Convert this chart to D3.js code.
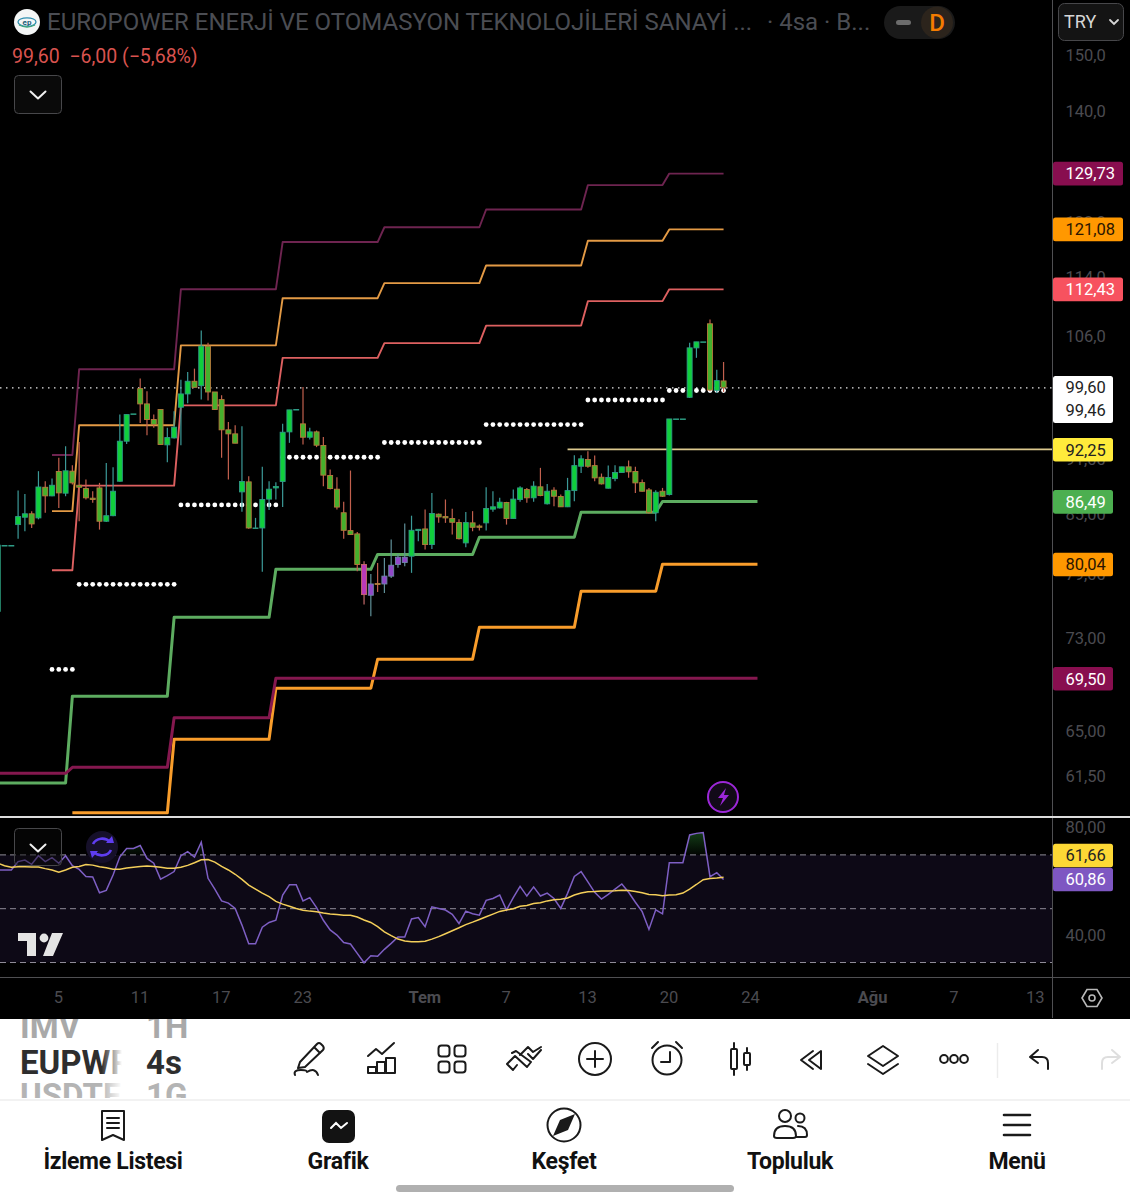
<!DOCTYPE html>
<html>
<head>
<meta charset="utf-8">
<script src="https://cdn.jsdelivr.net/npm/d3@7/dist/d3.min.js"></script>
<style>
html,body{margin:0;padding:0;background:#000;}
svg{display:block;font-family:Roboto,sans-serif;}
</style>
</head>
<body>
<div id="chart"></div>
<script>
// ---- candles, index 0 is bar -9 ----
const firstBar = -9;
const opens = [
75.5,81.9,81.9,84.05,84.82,85.18,84.75,88.02,87.09,89.75,
87.38,89.79,88.24,87.88,86.84,87.95,84.4,84.98,88.68,93.18,
96.38,99.44,97.58,95.71,96.9,92.76,93.56,97.18,98.79,100.35,
99.8,104.8,99.03,98.1,94.5,94.03,87.52,88.61,83.7,83.7,
86.74,87.95,88.65,94.26,96.9,95.2,93.64,94.26,92.69,89.31,
87.81,85.29,83.43,83.09,80,77.02,78.15,78.1,78.86,80,
80.2,80.83,83.43,83.6,82,85.14,84.89,84.68,84.26,82.17,
84.23,83.9,84.23,85.67,85.8,86.38,84.68,86.7,87.77,86.88,
88.07,86.24,87.7,87.02,85.92,87.66,90.34,91.09,90.41,89.12,
87.92,88.97,89.64,90.27,89.75,88.53,87.73,85.29,87.59,87.23,
95.78,95.78,98.38,104.58,105.36,107.74,99.23,100.39];
const highs = [
81.94,81.9,81.9,87.66,87.3,85.46,89.79,88.68,88.97,91.28,
92.6,90.45,93.1,88.86,87.59,88.5,90.71,90.23,96.3,96.3,
96.38,100.68,99.11,96.3,96.9,94.73,96.7,100.55,101.5,101.93,
106.85,105.23,99.03,98.62,95.43,95.04,94.92,89.23,84.75,90.27,
88.68,88.57,95.2,96.86,96.9,99.65,94.73,94.42,93.67,89.97,
89.12,86.45,89.86,83.29,80.33,79.08,80.16,80.66,82.51,81.06,
84.16,84.98,83.6,85.64,87.41,85.21,86.7,85.71,84.6,85.36,
85.46,84.05,88.02,87.59,86.88,86.45,87.77,88.14,87.95,88.68,
90.16,88.39,88.02,87.23,89.05,91.58,91.58,92.04,91.54,89.53,
90.41,90.45,90.27,90.98,90.27,88.86,87.95,87.7,87.95,95.78,
95.78,95.78,105.23,105.36,105.36,108.3,101.8,102.77];
const lows = [
75.5,81.9,81.9,82.6,83.36,83.7,84.6,85.3,87.05,85.8,
87.05,88.32,84.4,86.7,86.34,83.53,84.33,84.92,88.61,92.87,
96.38,95.31,93.87,94.73,92.8,90.79,93.48,92.72,97.66,99.6,
98.1,97.98,96.9,91.28,88.86,92.95,85.39,83.63,83.7,79.28,
85.57,86.7,85.9,92.99,96.9,92.8,93.37,92.5,88.14,87.77,
85.64,82.6,83.02,79.34,76.14,75.05,77.34,77.24,78.68,79.67,
79.84,79.18,82.34,81.5,81.56,84.23,84.23,83.02,82.51,81.73,
83.36,83.43,83.43,85.39,85.75,84.05,84.65,86.45,86.34,86.45,
87.05,86.16,85.99,85.89,85.89,86.52,89.6,90.16,88.68,88.32,
87.88,88.68,89.64,89.05,87.41,87.55,85.21,84.4,86.98,87.13,
95.78,95.78,98.3,103.3,105.36,99.11,98.9,99.03];
const closes = [
81.94,81.9,81.9,84.89,85.18,84.12,88.05,87.09,88.24,87.41,
89.83,88.5,88.02,86.88,86.7,84.4,84.98,87.59,93.18,96.3,
96.38,97.58,95.71,95.12,92.8,93.6,94.81,98.79,100.35,99.6,
104.8,99.03,96.9,94.5,94.03,92.95,88.65,83.7,83.7,86.7,
87.81,88.1,94.22,96.86,96.9,93.64,94.26,92.72,89.35,87.88,
85.89,83.46,83.02,80,77.08,78.1,78.05,78.86,79.93,80.73,
80.73,83.46,83.56,82,85.21,84.85,84.75,84.29,82.6,84.26,
83.77,83.77,85.74,85.92,86.41,84.68,86.74,87.95,86.88,88.14,
87.13,87.59,87.05,85.92,87.66,90.41,91.17,90.34,89.05,88.39,
89.09,89.64,90.27,89.72,88.5,87.59,85.29,87.48,87.05,95.78,
95.78,95.78,104.58,105.36,105.36,99.27,100.43,99.6];
const purpleBars = [46,48,49,50,51];
const magentaBars = [45];

// ---- pivot levels per period ----
const upperStarts = [-1,3,18,33,48,63,78,90];
const r3 = [91.6,101.85,112.44,119.2,121.4,124.1,127.9,129.73];
const r2 = [85.46,95.04,104.9,111.2,113.3,115.8,119.4,121.08];
const r1 = [79.44,88.2,97.4,103.3,105.2,107.5,110.8,112.43];
const pivots = [70.27,78.07,86.12,91.35,93.03,95.12,98.05,99.21];
const lowerStarts = [-10,2,17,32,47,62,77,89];
const s1 = [61.06,67.98,74.95,79.53,81.0,82.75,85.35,86.49];
const s2 = [null,58.85,64.45,68.65,71.16,74.03,77.4,80.04];
const s3 = [61.8,62.26,66.2,69.5,69.5,69.5,69.5,69.5];
const upperEnd = 98, lowerEnd = 103;
const hLevel = 92.25, hLevelStart = 75;

// ---- RSI, same bar index as candles ----
const rsi = [
64.4,64.4,64.4,67.5,68.1,66.5,69.7,67.5,69.0,66.9,
69.7,66.0,64.6,62.0,61.8,55.9,56.8,62.5,69.3,72.4,
72.4,73.5,68.7,66.9,61.0,62.3,63.8,69.7,71.2,69.2,
74.7,61.3,57.3,52.9,52.1,50.1,43.9,37.0,37.0,43.1,
44.9,45.7,55.1,58.9,58.9,52.9,54.1,50.4,45.7,42.1,
40.2,37.4,36.9,33.4,29.9,32.5,32.3,34.9,37.1,39.5,
39.5,46.2,46.7,43.3,50.7,50.1,49.5,47.9,44.5,49.1,
48.1,47.6,53.1,53.8,55.1,49.5,54.1,58.3,54.7,58.1,
54.7,55.8,53.8,50.1,55.7,62.0,63.8,60.0,56.1,53.6,
55.3,57.3,59.2,56.1,52.4,48.9,42.3,49.6,48.1,67.1,
67.1,67.1,77.4,78.0,78.3,61.9,63.4,60.86];
const rsiMa = [
66.9,66.0,65.4,65.6,65.6,65.5,65.5,64.9,64.4,63.6,
64.4,65.4,65.7,66.4,66.2,65.6,65.2,64.7,64.7,65.1,
65.4,65.7,65.9,65.7,65.4,65.0,65.0,65.4,66.1,67.1,
68.2,68.3,67.3,65.7,64.4,62.8,60.9,58.8,57.3,55.8,
54.5,52.7,51.7,50.9,50.1,49.4,49.1,48.9,48.4,48.0,
47.8,47.6,47.6,46.9,45.8,44.9,43.3,41.4,40.0,38.7,
38.0,37.7,37.7,37.9,38.7,39.6,40.7,41.8,42.9,44.1,
45.0,46.0,47.0,48.0,49.0,49.5,50.0,50.9,51.2,51.9,
52.2,52.9,53.3,53.5,54.0,55.1,55.8,56.3,56.4,56.6,
56.6,56.7,56.9,56.8,56.4,55.9,55.3,55.2,54.8,55.1,
55.2,55.8,57.3,59.0,60.8,61.2,61.4,61.66];
const rsiLevels = [70,50,30];

// ---- axis labels ----
const priceTicks = [150,140,122,114,106,91,85,79,73,65,61.5];
const rsiTicks = [80,40];
const timeTickBars = [0,12,24,36,54,66,78,90,102,120,132,144];
const timeTickLabels = ["5","11","17","23","Tem","7","13","20","24","Ağu","7","13"];
const boldTimeLabels = ["Tem","Ağu"];
const lastPrice = 99.60, bidPrice = 99.46;
const upperTagValues = [129.73,121.08,112.43];
const upperTagColors = ["#880E4F","#FF9800","#F7525F"];
const upperTagText = ["#fff","#2a1500","#fff"];
const lowerTagValues = [92.25,86.49,80.04,69.50];
const lowerTagColors = ["#FFEB3B","#4CAF50","#FF9800","#880E4F"];
const lowerTagText = ["#222","#fff","#2a1500","#fff"];
const tabLabels = ["İzleme Listesi","Grafik","Keşfet","Topluluk","Menü"];

const W = 1130, H = 1200, axisX = 1052;
const svg = d3.select("#chart").append("svg").attr("width",W).attr("height",H).style("background","#000");
const defs = svg.append("defs");
defs.append("clipPath").attr("id","pricePane").append("rect").attr("x",0).attr("y",0).attr("width",axisX).attr("height",816);
defs.append("clipPath").attr("id","rsiPane").append("rect").attr("x",0).attr("y",818).attr("width",axisX).attr("height",159);

const x = d3.scaleLinear().domain([0,144]).range([58.8,1035.6]);
const y = d3.scaleLog().domain([150,61.5]).range([56.2,777.2]);
const yR = d3.scaleLinear().domain([50,70]).range([908.7,854.9]);
const fmt2 = v => d3.format(".2f")(v).replace(".",",");
const barOf = i => i + firstBar;

// ---- price pane ----
const pane = svg.append("g").attr("clip-path","url(#pricePane)");
pane.append("line").attr("x1",0).attr("x2",axisX).attr("y1",y(lastPrice)+.5).attr("y2",y(lastPrice)+.5)
  .attr("stroke","#e8e8e8").attr("stroke-width",1.2).attr("stroke-dasharray","1.5 4.5");

function steps(starts, vals, end){
  const pts=[];
  vals.forEach((v,i)=>{
    if(v==null) return;
    const stop = i<starts.length-1 ? starts[i+1]-1 : end;
    pts.push([starts[i],v],[stop,v]);
  });
  return pts;
}
const stepLine = d3.line().x(d=>x(d[0])).y(d=>y(d[1]));
const levelLines = [
  {p:steps(upperStarts,r3,upperEnd),c:"#6e2450",w:1.9},
  {p:steps(upperStarts,r2,upperEnd),c:"#e39a45",w:1.9},
  {p:steps(upperStarts,r1,upperEnd),c:"#dd6060",w:1.9},
  {p:steps(lowerStarts,s2,lowerEnd),c:"#f99d2b",w:3},
  {p:steps(lowerStarts,s1,lowerEnd),c:"#5dac60",w:3},
  {p:steps(lowerStarts,s3,lowerEnd),c:"#85184f",w:3}
];
pane.selectAll("path.level").data(levelLines).join("path").attr("class","level")
  .attr("d",d=>stepLine(d.p)).attr("fill","none").attr("stroke",d=>d.c).attr("stroke-width",d=>d.w).attr("stroke-linejoin","round");

pane.append("line").attr("x1",x(hLevelStart)).attr("x2",axisX).attr("y1",y(hLevel)).attr("y2",y(hLevel))
  .attr("stroke","#dcc98e").attr("stroke-width",1.7);

const dots=[];
pivots.forEach((v,i)=>{
  const stop = i<upperStarts.length-1 ? upperStarts[i+1]-1 : upperEnd;
  for(let k=upperStarts[i];k<=stop;k++) dots.push({k,v});
});
pane.selectAll("circle.pivot").data(dots).join("circle").attr("class","pivot")
  .attr("cx",d=>x(d.k)).attr("cy",d=>y(d.v)).attr("r",2.4).attr("fill","#fff");

const bars = opens.map((o,i)=>({k:barOf(i),o,h:highs[i],l:lows[i],c:closes[i]}));
function palette(d){
  if(magentaBars.includes(d.k)) return {f:"#bb39b8",s:"#c46a6a",w:"#c46a6a"};
  if(purpleBars.includes(d.k)) return {f:"#9148c8",s:"#6f86a8",w:"#5f8f98"};
  if(d.c>=d.o) return {f:"#10cf3c",s:"#2f9a86",w:"#3c9a98"};
  return {f:"#45b02c",s:"#b57a3c",w:"#c2604e"};
}
const bw = 5;
const cg = pane.selectAll("g.bar").data(bars).join("g").attr("class","bar");
cg.append("line").attr("x1",d=>x(d.k)).attr("x2",d=>x(d.k)).attr("y1",d=>y(d.h)).attr("y2",d=>y(d.l))
  .attr("stroke",d=>palette(d).w).attr("stroke-width",1.2);
cg.append("rect").attr("x",d=>x(d.k)-bw/2).attr("width",bw)
  .attr("y",d=>y(Math.max(d.o,d.c)))
  .attr("height",d=>Math.max(0.5,y(Math.min(d.o,d.c))-y(Math.max(d.o,d.c))))
  .attr("fill",d=>palette(d).f).attr("stroke",d=>palette(d).s).attr("stroke-width",0.9);

// ---- RSI pane ----
const rp = svg.append("g").attr("clip-path","url(#rsiPane)");
rp.append("rect").attr("x",0).attr("width",axisX).attr("y",yR(70)).attr("height",yR(30)-yR(70)).attr("fill","#0d0916");
const grad = defs.append("linearGradient").attr("id","obFill").attr("gradientUnits","userSpaceOnUse")
  .attr("x1",0).attr("x2",0).attr("y1",yR(78)).attr("y2",yR(70));
grad.append("stop").attr("offset",0).attr("stop-color","#1c5a22").attr("stop-opacity",.65);
grad.append("stop").attr("offset",1).attr("stop-color","#1c5a22").attr("stop-opacity",.05);
const obClip = defs.append("clipPath").attr("id","obClip");
obClip.append("rect").attr("x",0).attr("y",0).attr("width",axisX).attr("height",yR(70));
rp.append("g").attr("clip-path","url(#obClip)").append("path")
  .datum(rsi).attr("fill","url(#obFill)")
  .attr("d",d3.area().x((d,i)=>x(barOf(i))).y0(yR(70)).y1(d=>yR(d)));
rp.selectAll("line.lvl").data(rsiLevels).join("line").attr("class","lvl")
  .attr("x1",0).attr("x2",axisX).attr("y1",d=>yR(d)).attr("y2",d=>yR(d))
  .attr("stroke","#8f8c98").attr("stroke-width",1).attr("stroke-dasharray","6 4");
rp.append("path").datum(rsi).attr("fill","none").attr("stroke","#7e5fc4").attr("stroke-width",1.5)
  .attr("d",d3.line().x((d,i)=>x(barOf(i))).y(d=>yR(d)));
rp.append("path").datum(rsiMa).attr("fill","none").attr("stroke","#f4cf5a").attr("stroke-width",1.5)
  .attr("d",d3.line().x((d,i)=>x(barOf(i))).y(d=>yR(d)));

// ---- frames ----
svg.append("line").attr("x1",axisX+.5).attr("x2",axisX+.5).attr("y1",0).attr("y2",1018).attr("stroke","#4f4f52");
svg.append("line").attr("x1",0).attr("x2",W).attr("y1",817).attr("y2",817).attr("stroke","#dcdcdc").attr("stroke-width",2);
svg.append("line").attr("x1",0).attr("x2",W).attr("y1",977.5).attr("y2",977.5).attr("stroke","#4f4f52");

// ---- axes ----
function styleAxis(g){ g.select(".domain").remove(); g.selectAll(".tick line").remove();
  g.selectAll("text").attr("fill","#4b4b50").style("font-family","Roboto,sans-serif").style("font-size","16.5px"); }
svg.append("g").attr("transform","translate(1065.5,-.8)")
  .call(d3.axisRight(y).tickValues(priceTicks).tickSize(0).tickPadding(0)
    .tickFormat(v=>(v>=100?d3.format(".1f")(v):d3.format(".2f")(v)).replace(".",",")))
  .call(styleAxis);
svg.append("g").attr("transform","translate(1065.5,-.8)")
  .call(d3.axisRight(yR).tickValues(rsiTicks).tickSize(0).tickPadding(0).tickFormat(fmt2))
  .call(styleAxis);
svg.append("g").attr("transform","translate(-.8,991)")
  .call(d3.axisBottom(x).tickValues(timeTickBars).tickSize(0).tickPadding(0)
    .tickFormat((v,i)=>timeTickLabels[i]))
  .call(styleAxis)
  .selectAll("text").style("font-weight",d=>boldTimeLabels.includes(timeTickLabels[timeTickBars.indexOf(d)])?"700":"400");

// ---- value tags ----
function tag(cy,w,fill,txtFill,label,h){
  h=h||23.6;
  svg.append("rect").attr("x",1053).attr("y",cy-h/2).attr("width",w).attr("height",h).attr("rx",2.5).attr("fill",fill);
  svg.append("text").attr("x",1065.5).attr("y",cy+5.8).attr("fill",txtFill).style("font-size","16.5px").text(label);
}
upperTagValues.forEach((v,i)=>tag(y(v),70,upperTagColors[i],upperTagText[i],fmt2(v)));
lowerTagValues.forEach((v,i)=>tag(y(v)+.4,60,lowerTagColors[i],lowerTagText[i],fmt2(v)));
svg.append("rect").attr("x",1053).attr("y",376).attr("width",60).attr("height",47).attr("rx",2.5).attr("fill","#fff");
[lastPrice,bidPrice].forEach((v,i)=>svg.append("text").attr("x",1065.5).attr("y",y(lastPrice)+5.6+i*23).attr("fill","#222").style("font-size","16.5px").text(fmt2(v)));
const rsiLast = rsi[rsi.length-1], maLast = rsiMa[rsiMa.length-1];
tag(yR(rsiLast)-24,60,"#FDD835","#222",fmt2(maLast));
tag(yR(rsiLast),60,"#7E57C2","#fff",fmt2(rsiLast));

// ---- header ----
const lg = svg.append("g").attr("transform","translate(27,22)");
lg.append("circle").attr("r",13).attr("fill","#f4f6f6");
lg.append("ellipse").attr("rx",9).attr("ry",4.2).attr("fill","none").attr("stroke","#2f8fb0").attr("stroke-width",1.3);
lg.append("path").attr("d","M-8 3 Q0 7 8 3").attr("fill","none").attr("stroke","#3aa37a").attr("stroke-width",1.3);
lg.append("text").attr("text-anchor","middle").attr("y",3).attr("fill","#1c5f7a").style("font-size","8px").style("font-weight","700").text("ep");
svg.append("text").attr("x",47).attr("y",30).attr("fill","#4b4d53").style("font-size","24px")
  .text("EUROPOWER ENERJİ VE OTOMASYON TEKNOLOJİLERİ SANAYİ ...");
svg.append("text").attr("x",767).attr("y",30).attr("fill","#4b4d53").style("font-size","24px").text("· 4sa · B...");
svg.append("text").attr("x",12).attr("y",63).attr("fill","#d9534f").style("font-size","19.5px").attr("xml:space","preserve").text("99,60  −6,00 (−5,68%)");
function chevron(gx,gy){
  svg.append("path").attr("d",`M${gx-7.5} ${gy-3.5} L${gx} ${gy+3.5} L${gx+7.5} ${gy-3.5}`).attr("fill","none").attr("stroke","#f0f0f0").attr("stroke-width",2).attr("stroke-linecap","round").attr("stroke-linejoin","round");
}
svg.append("rect").attr("x",14.5).attr("y",75.5).attr("width",47).attr("height",38).attr("rx",4).attr("fill","#0a0a0a").attr("stroke","#47474a");
chevron(38,95);
svg.append("rect").attr("x",14.5).attr("y",828.5).attr("width",47).attr("height",37).attr("rx",4).attr("fill","#0a0a0a").attr("fill-opacity",.45).attr("stroke","#47474a");
chevron(38,848);
svg.append("rect").attr("x",884).attr("y",6).attr("width",71).attr("height",33).attr("rx",16.5).attr("fill","#1a1a1a");
svg.append("rect").attr("x",896).attr("y",20).attr("width",15).attr("height",5).attr("rx",2.5).attr("fill","#6c6c6c");
svg.append("circle").attr("cx",937).attr("cy",22.5).attr("r",16).attr("fill","#2c241c");
svg.append("text").attr("x",937).attr("y",31).attr("text-anchor","middle").attr("fill","#f57c00").style("font-size","24px").style("font-weight","500").text("D");
svg.append("rect").attr("x",1058.5).attr("y",3.5).attr("width",65).attr("height",37).attr("rx",6).attr("fill","#141414").attr("stroke","#47474a");
svg.append("text").attr("x",1064).attr("y",27.5).attr("fill","#d6d6d6").style("font-size","18px").text("TRY");
svg.append("path").attr("d","M1110 20 L1114 24 L1118 20").attr("fill","none").attr("stroke","#d6d6d6").attr("stroke-width",1.8).attr("stroke-linecap","round");

// lightning badge
svg.append("circle").attr("cx",723).attr("cy",797).attr("r",15).attr("fill","#120a18").attr("stroke","#9c27d8").attr("stroke-width",2);
svg.append("path").attr("d","M726 788 L718 798 L723 798 L720 806 L729 795 L724 795 Z").attr("fill","#9c27d8");
// refresh badge
svg.append("circle").attr("cx",102).attr("cy",847).attr("r",16).attr("fill","#16102a");
svg.append("path").attr("d","M93 844 A10 9 0 0 1 110 842 M111 850 A10 9 0 0 1 94 852").attr("fill","none").attr("stroke","#5f3df0").attr("stroke-width",2.6);
svg.append("path").attr("d","M106 843 L114 843 L112 836 Z M98 851 L90 851 L92 858 Z").attr("fill","#5f3df0");
// TV mark
svg.append("path").attr("d","M18 933 H36 V956 H27 V941 H18 Z M52 933 H63 L53 956 H43 Z").attr("fill","#e4e4e4");
svg.append("circle").attr("cx",44).attr("cy",938).attr("r",4.4).attr("fill","#e4e4e4");
// settings
svg.append("path").attr("d","M1082 998 L1087 989.5 H1097 L1102 998 L1097 1006.5 H1087 Z").attr("fill","none").attr("stroke","#b9b9b9").attr("stroke-width",1.6);
svg.append("circle").attr("cx",1092).attr("cy",998).attr("r",3).attr("fill","none").attr("stroke","#b9b9b9").attr("stroke-width",1.6);

// ---- bottom panel ----
svg.append("rect").attr("x",0).attr("y",1019).attr("width",W).attr("height",181).attr("fill","#fff");
defs.append("clipPath").attr("id","wheel").append("rect").attr("x",0).attr("y",1019).attr("width",230).attr("height",79);
const wheel = svg.append("g").attr("clip-path","url(#wheel)");
const wg = defs.append("linearGradient").attr("id","wheelFade").attr("x1",0).attr("x2",1).attr("y1",0).attr("y2",0);
wg.append("stop").attr("offset",.8).attr("stop-color","#fff").attr("stop-opacity",0);
wg.append("stop").attr("offset",1).attr("stop-color","#fff").attr("stop-opacity",1);
[["IMV",1038,"#a9a9a9"],["EUPWR",1074,"#2e2e2e"],["USDTF",1107,"#b4b4b4"]].forEach(r=>
  wheel.append("text").attr("x",20).attr("y",r[1]).attr("fill",r[2]).style("font-size","33px").style("font-weight","700").text(r[0]));
wheel.append("rect").attr("x",20).attr("y",1019).attr("width",102).attr("height",79).attr("fill","url(#wheelFade)");
wheel.append("rect").attr("x",122).attr("y",1019).attr("width",24).attr("height",79).attr("fill","#fff");
[["1H",1038,"#a9a9a9"],["4s",1074,"#2e2e2e"],["1G",1107,"#b4b4b4"]].forEach(r=>
  wheel.append("text").attr("x",146).attr("y",r[1]).attr("fill",r[2]).style("font-size","33px").style("font-weight","700").text(r[0]));
svg.append("line").attr("x1",0).attr("x2",W).attr("y1",1100).attr("y2",1100).attr("stroke","#eeeeee").attr("stroke-width",1.5);
svg.append("line").attr("x1",997.5).attr("x2",997.5).attr("y1",1043).attr("y2",1078).attr("stroke","#ececec").attr("stroke-width",1.5);

function icon(cx,cy,inner,col,sw){
  svg.append("g").attr("transform",`translate(${cx},${cy})`).attr("fill","none").attr("stroke",col||"#1a1a1a").attr("stroke-width",sw||2)
    .attr("stroke-linecap","round").attr("stroke-linejoin","round").html(inner);
}
icon(309,1059,'<path d="M-9 3 L8 -15 Q10 -17 12 -15 L14 -13 Q15.5 -11 14 -9 L-4 8 L-11 9 Z M5 -12 L11 -6"/><path d="M-14 16 Q-16 11 -8 11 Q-2 11 -2 13 Q6 8 9 16"/>');
icon(381,1059,'<rect x="-13" y="8" width="8" height="6"/><rect x="-4" y="3" width="8" height="11"/><rect x="5" y="-1" width="9" height="15"/><path d="M-13 -3 L-5 -10 L1 -5 L13 -16"/>');
icon(452,1059,'<rect x="-13.5" y="-13.5" width="11" height="11" rx="3"/><rect x="2.5" y="-13.5" width="11" height="11" rx="3"/><rect x="-13.5" y="2.5" width="11" height="11" rx="3"/><rect x="2.5" y="2.5" width="11" height="11" rx="3"/>');
icon(524,1059,'<path d="M-17 5 L-9 -3 L3 8 L7 3 L-8 -8 L-12 -6 M-17 5 L-11 11 L-7 6 M-4 -4 L4 -12 L9 -7 L17 -12 M4 -5 L9 0 L17 -9"/>');
icon(595,1059,'<circle r="16"/><path d="M-8 0 H8 M0 -8 V8"/>');
icon(667,1060,'<circle r="14.5"/><path d="M3 -8 V2 H-6 M-15 -12 L-9 -18 M15 -12 L9 -18"/>');
icon(739,1059,'<rect x="-8" y="-10" width="6" height="20" rx="1"/><rect x="5" y="-6" width="6" height="12" rx="1"/><path d="M-5 -16 V-10 M-5 10 V16 M8 -11 V-6 M8 6 V11"/>');
icon(811,1060,'<path d="M10 -9 V9 L-2 0 Z M2 -9 L-10 0 L2 9"/>');
icon(883,1059,'<path d="M0 -13 L15 -3 L0 7 L-15 -3 Z M-15 5 L0 15 L15 5"/>');
icon(954,1059,'<circle cx="-10" r="3.9"/><circle r="3.9"/><circle cx="10" r="3.9"/>',null,2);
icon(1039,1060,'<path d="M-1 -10 L-9 -3 L-1 3 M-9 -3 H3 Q9 -3 9 3 V9"/>');
icon(1111,1060,'<path d="M1 -10 L9 -3 L1 3 M9 -3 H-3 Q-9 -3 -9 3 V9"/>',"#dedede");
// tabs
icon(113,1126,'<path d="M-11 -15 H11 V14 L0 9 L-11 14 Z M-6 -8 H6 M-6 -3 H6 M-6 2 H6"/>');
svg.append("rect").attr("x",322).attr("y",1110).attr("width",33).attr("height",33).attr("rx",7).attr("fill","#131313");
svg.append("path").attr("d","M331 1128 L336 1123 L341 1128 L347 1123").attr("fill","none").attr("stroke","#fff").attr("stroke-width",2).attr("stroke-linecap","round");
icon(564,1125,'<circle r="16.5"/>');
svg.append("path").attr("d","M575 1114 L568 1130 L553 1136 L560 1120 Z").attr("fill","#1a1a1a");
icon(790,1125,'<circle cx="-5" cy="-9" r="6"/><circle cx="10" cy="-7" r="4.5"/><path d="M-16 11 Q-16 1 -5 1 Q6 1 6 11 Q6 13 3 13 H-13 Q-16 13 -16 11 Z M8 1 Q17 1 17 10 Q17 12 15 12 H7"/>');
icon(1017,1125,'<path d="M-13 -10 H13 M-13 0 H13 M-13 10 H13"/>',null,2.6);
[113,338,564,790,1017].forEach((cx,i)=>svg.append("text").attr("x",cx).attr("y",1169).attr("text-anchor","middle")
  .attr("fill","#111").style("font-size","23px").style("font-weight","700").style("letter-spacing","-.3px").text(tabLabels[i]));
svg.append("rect").attr("x",396).attr("y",1185).attr("width",338).attr("height",7).attr("rx",3.5).attr("fill","#b0b0b0");
</script>
</body>
</html>
